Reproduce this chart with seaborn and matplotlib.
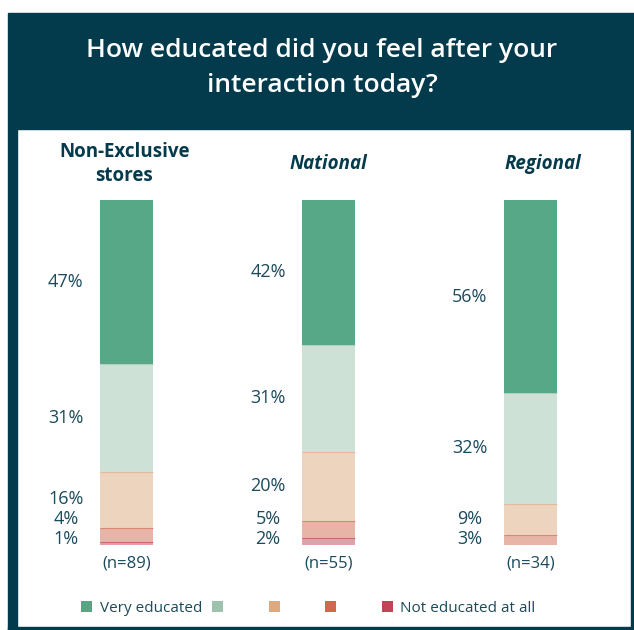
import matplotlib
matplotlib.use("Agg")
import matplotlib.pyplot as plt
from matplotlib.patches import Rectangle, Patch
import numpy as np
import pandas as pd
import seaborn as sns

# ---- data -------------------------------------------------------------
groups = ["Non-Exclusive\nstores", "National", "Regional"]
group_italic = [False, True, True]
sample_sizes = [89, 55, 34]

very_educated = [47, 42, 56]
level_2 = [31, 31, 32]
level_3 = [16, 20, 9]
level_4 = [4, 5, 3]
not_educated = [1, 2, 0]

legend_labels = ["Very educated", "", "", "", "Not educated at all"]

# ---- style ------------------------------------------------------------
NAVY = "#033b4c"
TEXT = "#1b4a5c"
legend_colors = ["#56a683", "#9dc3ae", "#dcaa80", "#cf6a50", "#c04455"]
bar_colors = ["#57a886", "#cee1d6", "#edd4bf", "#e7b4a7", "#e0a1aa"]

sns.set_theme(style="white")
plt.rcParams["font.family"] = ["Open Sans", "DejaVu Sans"]

W, H = 634, 630
fig = plt.figure(figsize=(W / 100, H / 100), dpi=100)
fig.patch.set_facecolor("white")


def fx(px):
    return px / W


def fy(py):
    return 1 - py / H


# frame: dark header band, left / right / bottom borders
fig.patches.append(Rectangle((fx(8), fy(129)), fx(634) - fx(8), fy(13) - fy(129),
                             transform=fig.transFigure, color=NAVY, zorder=0))
fig.patches.append(Rectangle((fx(8), fy(630)), fx(17) - fx(8), fy(129) - fy(630),
                             transform=fig.transFigure, color=NAVY, zorder=0))
fig.patches.append(Rectangle((fx(631), fy(630)), fx(634) - fx(631), fy(129) - fy(630),
                             transform=fig.transFigure, color=NAVY, zorder=0))
fig.patches.append(Rectangle((fx(8), fy(630)), fx(634) - fx(8), fy(627) - fy(630),
                             transform=fig.transFigure, color=NAVY, zorder=0))

fig.text(fx(322), fy(68), "How educated did you feel after your\ninteraction today?",
         ha="center", va="center", color="white", fontsize=19, fontweight="semibold",
         linespacing=1.55)

# ---- stacked bars -----------------------------------------------------
series = [very_educated, level_2, level_3, level_4, not_educated]
values = np.array(series, dtype=float)          # rows: levels, cols: groups
shares = values / values.sum(axis=0) * 100      # each column sums to 100

ax = fig.add_axes([fx(17), fy(627), fx(631) - fx(17), fy(129) - fy(627)])
ax.set_facecolor("none")

bar_w = 53 / 202
# level k occupies from sum(shares[k+1:]) up to sum(shares[k:])
tops = np.array([shares[k:].sum(axis=0) for k in range(len(series))])
bottoms = np.array([shares[k + 1:].sum(axis=0) for k in range(len(series))])

for k in range(len(series)):
    df = pd.DataFrame({"group": groups, "top": tops[k]})
    sns.barplot(data=df, x="group", y="top", order=groups, color=bar_colors[k],
                saturation=1, width=bar_w, linewidth=0, edgecolor="none", ax=ax)
    if k > 0:
        for i in range(len(groups)):
            if shares[k, i] > 0:
                ax.hlines(tops[k, i], i - bar_w / 2, i + bar_w / 2,
                          color=legend_colors[k], lw=0.8, alpha=0.6, zorder=3)

# percentage labels, nudged apart where segments are thin
gap = 5.8
for i in range(len(groups)):
    ys = []
    for k in range(len(series) - 1, -1, -1):       # bottom to top
        if values[k, i] <= 0:
            continue
        mid = (tops[k, i] + bottoms[k, i]) / 2
        if ys:
            mid = max(mid, ys[-1][1] + gap)
        else:
            mid = max(mid, 1.6)
        ys.append((k, mid))
    for k, y in ys:
        ax.text(i - 0.30, y, f"{int(values[k, i])}%", ha="center", va="center",
                fontsize=13, color=TEXT)
    ax.text(i, -5.3, f"(n={sample_sizes[i]})", ha="center", va="center",
            fontsize=12, color=TEXT)

title_nudge = [-0.01, 0.0, 0.06]
for i, g in enumerate(groups):
    ax.text(i + title_nudge[i], 110.4, g, ha="center", va="center", fontsize=13.5,
            fontweight="bold", fontstyle="italic" if group_italic[i] else "normal",
            color=NAVY, linespacing=1.3)

ax.set_xlim((17 - 126.5) / 202, (631 - 126.5) / 202)
ax.set_ylim((545 - 627) / 3.45, (545 - 129) / 3.45)
ax.axis("off")

# ---- legend -----------------------------------------------------------
handles = [Patch(facecolor=c, edgecolor="none") for c in legend_colors]
labels = [lab if lab else " " * 7 for lab in legend_labels]
fig.legend(handles, labels, loc="center left", bbox_to_anchor=(fx(81), fy(608)),
           ncol=5, frameon=False, fontsize=11, labelcolor=TEXT,
           handlelength=0.72, handleheight=0.72, handletextpad=0.5,
           columnspacing=0.65, borderaxespad=0, borderpad=0)

fig.savefig("out.png", dpi=100)
